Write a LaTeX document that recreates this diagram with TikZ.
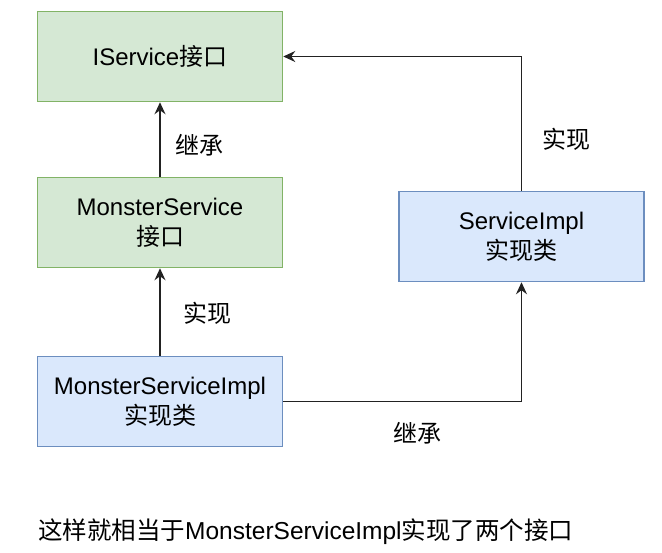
\documentclass[tikz,border=0pt]{standalone}
\usepackage{fontspec}
\setmainfont{Liberation Sans}
\newfontfamily\cjk{Noto Sans CJK SC}
\usetikzlibrary{arrows.meta}
\definecolor{gfill}{HTML}{D5E8D4}
\definecolor{gline}{HTML}{82B366}
\definecolor{bfill}{HTML}{DAE8FC}
\definecolor{bline}{HTML}{6C8EBF}
\definecolor{lcol}{HTML}{222222}
\begin{document}
\begin{tikzpicture}[x=1pt,y=-1pt,
  boxbase/.style={minimum width=245pt,minimum height=90pt,inner sep=0pt,line width=1.5pt,align=center,font=\fontsize{24}{30}\selectfont},
  greenbox/.style={boxbase,draw=gline,fill=gfill},
  bluebox/.style={boxbase,draw=bline,fill=bfill},
  arr/.style={draw=lcol,line width=1.5pt,-{Stealth[length=12pt,width=11pt,inset=4pt]}},
  lbl/.style={font=\cjk\fontsize{24}{28}\selectfont,inner sep=0pt}
]
\useasboundingbox (0,0) rectangle (662,553);
\node[greenbox] (is) at (160,56.5) {IService{\cjk 接口}};
\node[greenbox] (ms) at (160,222.5) {MonsterService\\{\cjk 接口}};
\node[bluebox] (msi) at (160,401.5) {MonsterServiceImpl\\{\cjk 实现类}};
\node[bluebox] (si) at (521.5,236.5) {ServiceImpl\\{\cjk 实现类}};
\draw[arr] (ms.north) -- (is.south);
\draw[arr] (msi.north) -- (ms.south);
\draw[arr] (msi.east) -| (si.south);
\draw[arr] (si.north) |- (is.east);
\node[lbl] (l1) at (199,145) {继承};
\node[lbl] (l2) at (207,313) {实现};
\node[lbl] (l3) at (417,433) {继承};
\node[lbl] (l4) at (566,139) {实现};
\node[anchor=west,inner sep=0pt,font=\fontsize{24.5}{28}\selectfont] (note) at (38,532) {{\cjk 这样就相当于}MonsterServiceImpl{\cjk 实现了两个接口}};
\end{tikzpicture}
\end{document}
